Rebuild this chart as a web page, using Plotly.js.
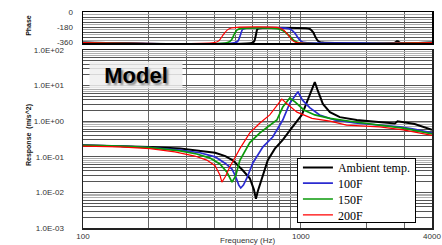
<!DOCTYPE html>
<html>
<head>
<meta charset="utf-8">
<script src="https://cdn.plot.ly/plotly-3.0.1.min.js"></script>
<style>html,body{margin:0;padding:0;background:#fff;}#chart{width:442px;height:245px;}</style>
</head>
<body>
<div id="chart"></div>
<script>
// ---- Data ----
const seriesNames = ['Ambient temp.', '100F', '150F', '200F'];
const seriesColors = ['#000000', '#2b2bd0', '#0a9a0a', '#ff0000'];

// Response magnitude (m/s^2) vs frequency (Hz)
const freqAmbient = [100, 148, 203, 279, 344, 404, 450, 487, 541, 583, 609, 622, 635, 662, 705, 760, 826, 916, 1010, 1066, 1125, 1159, 1194, 1262, 1360, 1510, 1805, 2180, 2650, 2700, 2780, 2900, 3330, 4000];
const respAmbient = [0.21, 0.2, 0.19, 0.17, 0.146, 0.13, 0.105, 0.08, 0.042, 0.025, 0.012, 0.0066, 0.011, 0.025, 0.08, 0.17, 0.3, 0.69, 1.5, 3.45, 7.5, 12.6, 7.5, 3.05, 1.8, 1.3, 1.08, 0.95, 0.83, 0.86, 1.0, 0.95, 0.83, 0.57];

const freq100F = [100, 148, 203, 279, 344, 404, 449, 483, 502, 519, 530, 545, 565, 602, 670, 743, 826, 890, 960, 971, 1018, 1098, 1220, 1430, 1770, 2300, 2850, 3300, 4000];
const resp100F = [0.21, 0.2, 0.18, 0.155, 0.13, 0.1, 0.066, 0.045, 0.028, 0.016, 0.0133, 0.016, 0.025, 0.067, 0.19, 0.36, 1.08, 3.2, 6.2, 6.6, 3.9, 2.4, 1.5, 1.08, 0.89, 0.78, 0.69, 0.6, 0.47];

const freq150F = [100, 148, 203, 279, 333, 383, 425, 458, 483, 502, 525, 583, 649, 720, 776, 826, 890, 943, 1032, 1159, 1360, 1770, 2300, 2950, 4000];
const resp150F = [0.21, 0.2, 0.18, 0.146, 0.12, 0.092, 0.063, 0.037, 0.0195, 0.029, 0.08, 0.25, 0.47, 0.74, 1.08, 2.5, 4.5, 3.45, 2.07, 1.5, 1.2, 0.95, 0.78, 0.64, 0.44];

const freq200F = [100, 148, 203, 264, 326, 370, 404, 425, 434, 449, 472, 525, 583, 649, 720, 776, 818, 866, 960, 1125, 1360, 1620, 2300, 2950, 4000];
const resp200F = [0.2, 0.19, 0.17, 0.137, 0.105, 0.081, 0.056, 0.031, 0.0195, 0.027, 0.052, 0.17, 0.47, 0.89, 1.5, 2.7, 4.2, 3.05, 1.8, 1.2, 1.0, 0.78, 0.69, 0.57, 0.4];

// Phase (deg) vs frequency (Hz)
const phaseFreqAmbient = [100, 600, 612, 622, 632, 650, 1050, 1100, 1140, 1165, 1190, 1225, 1260, 2700, 2760, 2800, 2840, 4000];
const phaseAmbient = [-360, -360, -340, -270, -200, -190, -190, -200, -240, -290, -330, -355, -360, -360, -345, -345, -360, -360];
const phaseFreq100F = [100, 500, 515, 528, 540, 560, 850, 900, 940, 975, 1010, 1050, 4000];
const phase100F = [-360, -360, -340, -270, -205, -190, -190, -205, -250, -310, -350, -360, -360];
const phaseFreq150F = [100, 460, 480, 495, 510, 530, 780, 830, 880, 930, 970, 4000];
const phase150F = [-360, -360, -330, -260, -210, -195, -195, -220, -275, -335, -360, -360];
const phaseFreq200F = [100, 400, 420, 440, 460, 480, 800, 840, 880, 920, 960, 4000];
const phase200F = [-360, -360, -340, -270, -210, -188, -188, -220, -280, -340, -360, -360];

// Axis ticks
const xTickVals = [100, 1000, 4000];
const xTickText = ['100', '1000', '4000'];
const xGridVals = [200, 300, 400, 500, 600, 700, 800, 900, 2000, 3000];
const yDecades = [0.001, 0.01, 0.1, 1, 10, 100];
const yDecadeLabels = ['1.0E-03', '1.0E-02', '1.0E-01', '1.0E+00', '1.0E+01', '1.0E+02'];
const phaseTickVals = [0, -180, -360];
const phaseTickText = ['0', '-180', '-360'];

// ---- Build ----
const freqs = [freqAmbient, freq100F, freq150F, freq200F];
const resps = [respAmbient, resp100F, resp150F, resp200F];
const pfreqs = [phaseFreqAmbient, phaseFreq100F, phaseFreq150F, phaseFreq200F];
const phases = [phaseAmbient, phase100F, phase150F, phase200F];
const widths = [2, 1.7, 1.7, 1.2];

const traces = [];
for (let i = 0; i < 4; i++) {
  traces.push({
    x: freqs[i], y: resps[i], type: 'scatter', mode: 'lines',
    name: seriesNames[i], xaxis: 'x', yaxis: 'y',
    line: {color: seriesColors[i], width: widths[i]}
  });
}
for (let i = 0; i < 4; i++) {
  traces.push({
    x: pfreqs[i], y: phases[i], type: 'scatter', mode: 'lines',
    name: seriesNames[i], xaxis: 'x2', yaxis: 'y2', showlegend: false,
    line: {color: seriesColors[i], width: widths[i], shape: 'spline', smoothing: 0.8}
  });
}

// Response y-axis gridlines: dark for 1..6 multiples, grey for 7..9
const yMajorVals = [], yMajorText = [], yMinorVals = [];
yDecades.forEach((d, k) => {
  yMajorVals.push(d); yMajorText.push(yDecadeLabels[k]);
  if (d < 100) {
    [2, 3, 4, 5, 6].forEach(m => { yMajorVals.push(d * m); yMajorText.push(''); });
    [7, 8, 9].forEach(m => yMinorVals.push(d * m));
  }
});
const phaseGridMajor = [], phaseGridText = [], phaseGridMinor = [];
for (let v = 0; v >= -360; v -= 30) {
  if (v % 60 === 0) { phaseGridMajor.push(v); const idx = phaseTickVals.indexOf(v); phaseGridText.push(idx >= 0 ? phaseTickText[idx] : ''); }
  else phaseGridMinor.push(v);
}

const tickFont = {family: 'Liberation Sans, Arial, sans-serif', size: 8, color: '#333'};
const xBase = {
  type: 'log', range: [2, Math.log10(4000)],
  tickmode: 'array', tickvals: xTickVals, ticktext: xTickText,
  showgrid: true, gridcolor: '#666', gridwidth: 1,
  minor: {tickmode: 'array', tickvals: xGridVals, showgrid: true, gridcolor: '#666', gridwidth: 1, ticks: ''},
  showline: true, linecolor: '#222', linewidth: 1.5, mirror: true,
  ticks: '', tickfont: tickFont, zeroline: false, automargin: false
};

const layout = {
  width: 442, height: 245,
  margin: {l: 83, r: 10, t: 12, b: 17},
  paper_bgcolor: '#fff', plot_bgcolor: '#fff',
  showlegend: true,
  xaxis: Object.assign({}, xBase, {anchor: 'y', domain: [0, 1]}),
  xaxis2: Object.assign({}, xBase, {anchor: 'y2', domain: [0, 1], matches: 'x', showticklabels: false, linecolor: '#000'}),
  yaxis: {
    domain: [0, 0.824], type: 'log', range: [-3, 2],
    tickmode: 'array', tickvals: yMajorVals, ticktext: yMajorText,
    showgrid: true, gridcolor: '#555', gridwidth: 1,
    minor: {tickmode: 'array', tickvals: yMinorVals, showgrid: true, gridcolor: '#b0b0b0', gridwidth: 1, ticks: ''},
    showline: true, linecolor: '#222', linewidth: 1.5, mirror: true,
    ticks: '', tickfont: tickFont, ticklabelstandoff: 16, zeroline: false, automargin: false
  },
  yaxis2: {
    domain: [0.856, 1], range: [-366, 0],
    tickmode: 'array', tickvals: phaseGridMajor, ticktext: phaseGridText,
    showgrid: true, gridcolor: '#555', gridwidth: 1,
    minor: {tickmode: 'array', tickvals: phaseGridMinor, showgrid: true, gridcolor: '#aaa', gridwidth: 1, ticks: ''},
    showline: true, linecolor: '#000', linewidth: 1.5, mirror: true,
    ticks: '', tickfont: tickFont, ticklabelstandoff: 7, zeroline: false, automargin: false
  },
  legend: {
    x: 0.613, y: 0.024, xanchor: 'left', yanchor: 'bottom',
    bgcolor: '#fff', bordercolor: '#000', borderwidth: 1,
    font: {family: 'Liberation Serif, Times New Roman, serif', size: 12, color: '#000'},
    itemwidth: 30, tracegroupgap: 0
  },
  annotations: [
    {text: '<b>Model</b>', xref: 'paper', yref: 'paper', x: 0.152, y: 0.708, xanchor: 'center', yanchor: 'middle',
     showarrow: false, font: {family: 'Liberation Sans, Arial, sans-serif', size: 22, color: '#000', shadow: '2px 2px 2px #888'},
     bgcolor: 'rgba(238,238,238,0.85)', width: 90, height: 24},
    {text: '<b>Response  (m/s^2)</b>', xref: 'paper', yref: 'paper', x: -0.155, y: 0.43, xanchor: 'center', yanchor: 'middle',
     textangle: -90, showarrow: false, font: {family: 'Liberation Sans, Arial, sans-serif', size: 7, color: '#111'}},
    {text: '<b>Phase</b>', xref: 'paper', yref: 'paper', x: -0.155, y: 0.94, xanchor: 'center', yanchor: 'middle',
     textangle: -90, showarrow: false, font: {family: 'Liberation Sans, Arial, sans-serif', size: 7, color: '#111'}},
    {text: 'Frequency (Hz)', xref: 'paper', yref: 'paper', x: 0.47, y: -0.056, xanchor: 'center', yanchor: 'middle',
     showarrow: false, font: {family: 'Liberation Sans, Arial, sans-serif', size: 8, color: '#333'}},
    {text: 'Frequency (Hz)', xref: 'paper', yref: 'paper', x: 0.49, y: 1.055, xanchor: 'center', yanchor: 'bottom',
     showarrow: false, font: {family: 'Liberation Sans, Arial, sans-serif', size: 8, color: '#777'}}
  ]
};

Plotly.newPlot('chart', traces, layout, {displayModeBar: false, staticPlot: true}).then(gd => {
  // Tighten legend row spacing to match the compact reference legend
  try {
    const leg = gd.querySelector('g.legend');
    const items = Array.from(leg.querySelectorAll('g.traces'));
    const bg = leg.querySelector('rect.bg');
    const parseT = s => { const m = /translate\(\s*([-\d.e]+)[ ,]+([-\d.e]+)\s*\)/.exec(s || ''); return m ? [parseFloat(m[1]), parseFloat(m[2])] : null; };
    const pos = items.map(g => parseT(g.getAttribute('transform')));
    if (items.length > 1 && pos.every(p => p)) {
      const oldStep = pos[1][1] - pos[0][1];
      const step = 15.8;
      const shrink = (oldStep - step) * (items.length - 1) + 14;
      items.forEach((g, i) => g.setAttribute('transform', `translate(${pos[i][0]},${pos[0][1] - 6.5 + i * step})`));
      const h = parseFloat(bg.getAttribute('height'));
      bg.setAttribute('height', h - shrink);
      const lt = parseT(leg.getAttribute('transform'));
      if (lt) leg.setAttribute('transform', `translate(${lt[0]},${lt[1] + shrink})`);
    }
  } catch (e) {}
});
</script>
</body>
</html>
